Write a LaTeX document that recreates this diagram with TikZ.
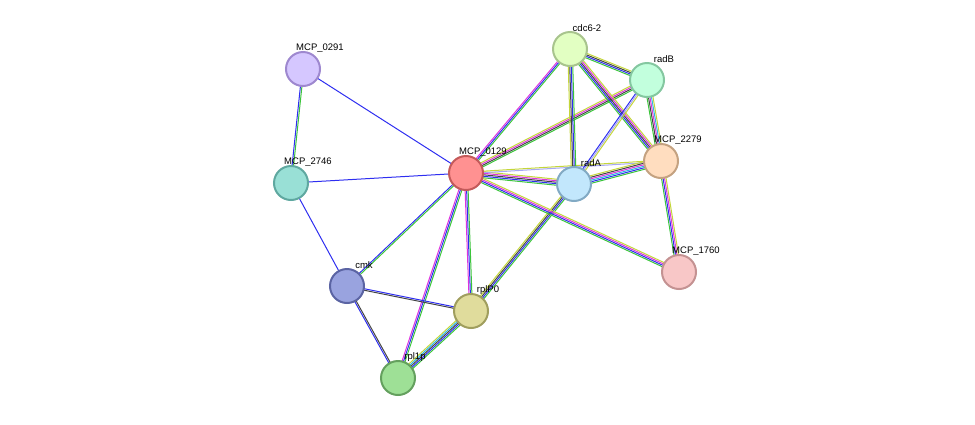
\documentclass[tikz,border=0pt]{standalone}
\usepackage{fontspec}
\setmainfont{Liberation Sans}
\usetikzlibrary{calc}
\definecolor{eg}{HTML}{3BC43B}
\definecolor{eb}{HTML}{2E2EF0}
\definecolor{em}{HTML}{DD33DD}
\definecolor{ek}{HTML}{444444}
\definecolor{ey}{HTML}{C4D63A}
\definecolor{ec}{HTML}{2DB8E0}
\definecolor{el}{HTML}{A8A8F5}
\tikzset{
  prot/.style 2 args={circle, minimum size=34pt, inner sep=0pt, line width=2pt,
    /utils/exec={\definecolor{pf}{HTML}{#1}\definecolor{pd}{HTML}{#2}}, fill=pf, draw=pd},
  lbl/.style={anchor=west, xshift=17pt, yshift=21pt, font=\fontsize{9.5}{10}\selectfont, inner sep=0pt}
}
% parallel coloured lines between two nodes
\newcommand\link[4]{%
  \foreach \c [count=\i] in {#4}{%
    \pgfmathsetmacro\off{(\i-(#3+1)/2)*1.5}%
    \draw[color=\c, line width=1pt] ($(#1)!\off pt!90:(#2)$) -- ($(#2)!\off pt!-90:(#1)$);
  }}
\begin{document}
\begin{tikzpicture}[x=1pt,y=-1pt]
    \useasboundingbox (0,0) rectangle (975,424);
    \coordinate (p0291) at (303,69);
    \coordinate (p2746) at (291,183);
    \coordinate (p0129) at (466,173);
    \coordinate (pcdc) at (570,49);
    \coordinate (pradB) at (647,80);
    \coordinate (p2279) at (661,161);
    \coordinate (pradA) at (574,184);
    \coordinate (p1760) at (679,272);
    \coordinate (pcmk) at (347,286);
    \coordinate (prplP) at (471,311);
    \coordinate (prpl1) at (398,378);
    %edges
    \link{p0291}{p2746}{2}{eb,eg}
    \link{p0291}{p0129}{1}{eb}
    \link{p2746}{p0129}{1}{eb}
    \link{p2746}{pcmk}{1}{eb}
    \link{p0129}{pcmk}{2}{eb,eg}
    \link{p0129}{prpl1}{3}{em,eb,eg}
    \link{p0129}{prplP}{3}{em,eb,eg}
    \link{pcmk}{prplP}{2}{ek,eb}
    \link{pcmk}{prpl1}{2}{eb,ek}
    \link{prplP}{prpl1}{5}{ey,ec,ek,eb,eg}
    \link{prplP}{pradA}{4}{eg,eb,ek,ey}
    \link{p0129}{pcdc}{3}{eg,eb,em}
    \link{p0129}{pradB}{4}{eg,ek,em,ey}
    \link{p0129}{pradA}{5}{eg,eb,ek,em,ey}
    \link{p0129}{p2279}{2}{el,ey}
    \link{p0129}{p1760}{4}{eg,eb,em,ey}
    \link{pcdc}{pradB}{4}{eg,eb,ek,ey}
    \link{pcdc}{pradA}{4}{ey,ek,eb,eg}
    \link{pcdc}{p2279}{5}{eg,eb,ek,em,ey}
    \link{pradB}{pradA}{3}{eb,el,ey}
    \link{pradB}{p2279}{5}{eg,ek,em,ec,ey}
    \link{pradA}{p2279}{6}{eg,eb,ec,em,ek,ey}
    \link{p2279}{p1760}{4}{eg,eb,em,ey}
    %proteins
    \node[prot={D5C7FF}{9E88CF}, label={[lbl]center:MCP\_0291}] (n0291) at (p0291) {};
    \node[prot={99E0D6}{5FA8A0}, label={[lbl]center:MCP\_2746}] (n2746) at (p2746) {};
    \node[prot={FF9191}{C45A5A}, label={[lbl]center:MCP\_0129}] (n0129) at (p0129) {};
    \node[prot={E2FFC2}{A8C48D}, label={[lbl]center:cdc6-2}] (ncdc) at (pcdc) {};
    \node[prot={C2FFDD}{84C7A0}, label={[lbl]center:radB}] (nradB) at (pradB) {};
    \node[prot={FFDDBF}{C4A281}, label={[lbl]center:MCP\_2279}] (n2279) at (p2279) {};
    \node[prot={C2E7FC}{82AAC4}, label={[lbl]center:radA}] (nradA) at (pradA) {};
    \node[prot={F8C7C7}{C49292}, label={[lbl]center:MCP\_1760}] (n1760) at (p1760) {};
    \node[prot={99A3DF}{5B64A3}, label={[lbl]center:cmk}] (ncmk) at (pcmk) {};
    \node[prot={E0DC9C}{A09E5E}, label={[lbl]center:rplP0}] (nrplP) at (prplP) {};
    \node[prot={9EE096}{64A05E}, label={[lbl]center:rpl1p}] (nrpl1) at (prpl1) {};
\end{tikzpicture}
\end{document}
